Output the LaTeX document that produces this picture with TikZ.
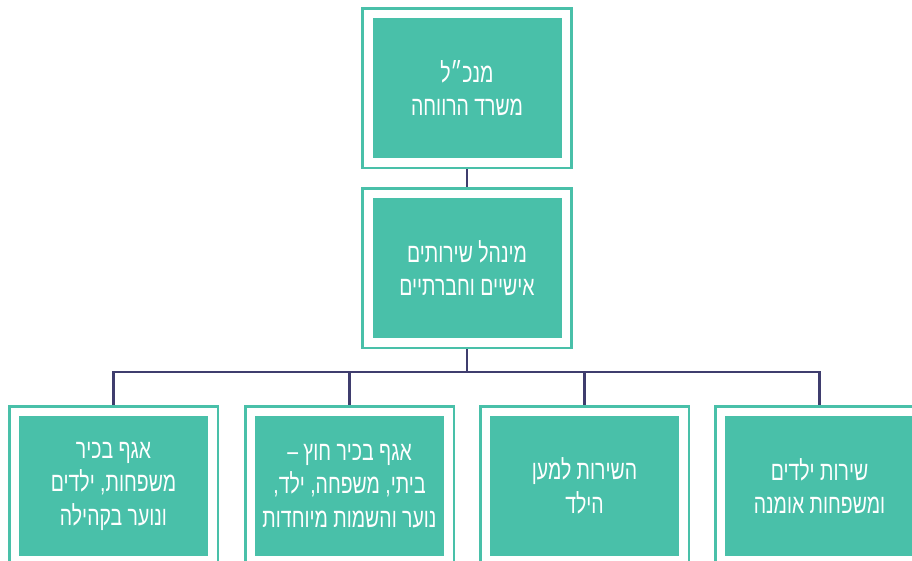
\documentclass[tikz,border=0pt]{standalone}
\usepackage{fontspec}
\usetikzlibrary{fit}
\TeXXeTstate=1
\newfontfamily\hebfont[Script=Hebrew,FakeStretch=0.72]{Liberation Sans}
\definecolor{tealbox}{HTML}{49C0A9}
\definecolor{navyline}{HTML}{3F3D6E}
\begin{document}
\begin{tikzpicture}[x=1pt,y=-1pt,
  box/.style={fill=tealbox, minimum width=189pt, minimum height=140pt, inner sep=0pt, outer sep=0pt,
    text=white, font=\hebfont\fontsize{27}{33.5}\selectfont, align=center},
  frame/.style={draw=tealbox, line width=2.6pt, inner sep=9.8pt},
  conn/.style={draw=navyline, line width=2.8pt}]
\useasboundingbox (0,0) rectangle (912,560);
\fill[white] (0,0) rectangle (912,560);

\node[box] (ceo) at (467,88) {\beginR מנכ״ל\endR\\\beginR משרד הרווחה\endR};
\node[frame, fit=(ceo)] (ceof) {};

\node[box] (adm) at (467,268) {\beginR מינהל שירותים\endR\\\beginR אישיים וחברתיים\endR};
\node[frame, fit=(adm)] (admf) {};

\node[box] (c1) at (113.5,486) {\beginR אגף בכיר\endR\\\beginR משפחות, ילדים\endR\\\beginR ונוער בקהילה\endR};
\node[frame, fit=(c1)] (c1f) {};

\node[box] (c2) at (349.5,486) {\beginR אגף בכיר חוץ –\endR\\\beginR ביתי, משפחה, ילד,\endR\\\beginR נוער והשמות מיוחדות\endR};
\node[frame, fit=(c2)] (c2f) {};

\node[box] (c3) at (584.5,486) {\beginR השירות למען\endR\\\beginR הילד\endR};
\node[frame, fit=(c3)] (c3f) {};

\node[box] (c4) at (819.5,486) {\beginR שירות ילדים\endR\\\beginR ומשפחות אומנה\endR};
\node[frame, fit=(c4)] (c4f) {};

\coordinate (bus) at (467,372);

\draw[conn] (ceof.south) -- (admf.north);
\draw[conn] (admf.south) -- (bus);
\draw[conn] (bus) -| (c1f.north);
\draw[conn] (bus) -| (c2f.north);
\draw[conn] (bus) -| (c3f.north);
\draw[conn] (bus) -| (c4f.north);
\end{tikzpicture}
\end{document}
